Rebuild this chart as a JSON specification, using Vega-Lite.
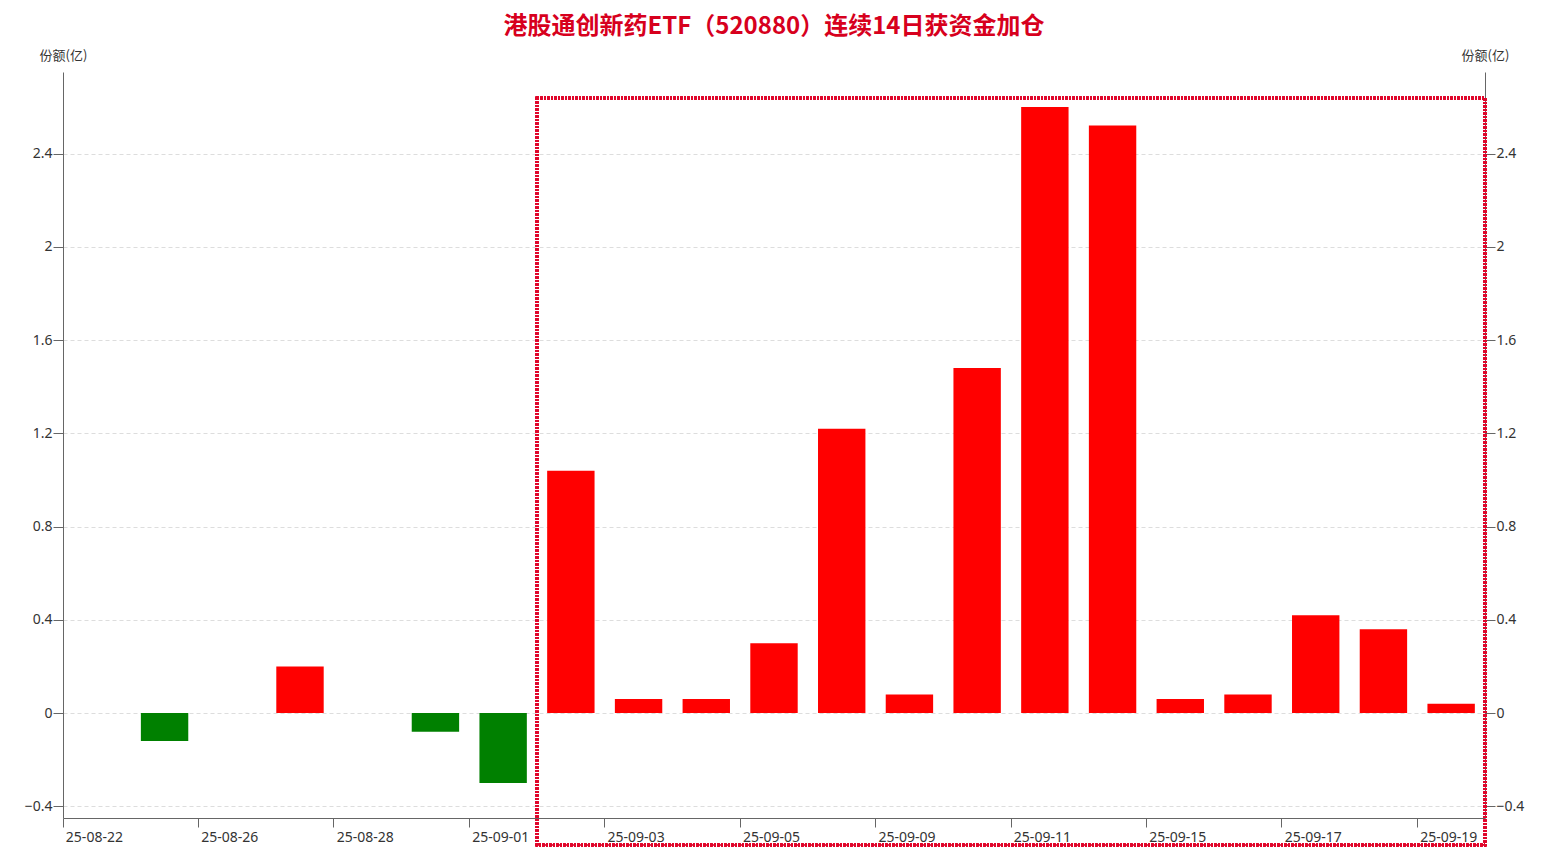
{
  "$schema": "https://vega.github.io/schema/vega-lite/v6.json",
  "background": "#ffffff",
  "autosize": {"type": "none"},
  "padding": {"left": 63, "top": 72, "right": 62, "bottom": 48},
  "width": 1422,
  "height": 746,
  "title": {
    "text": "港股通创新药ETF（520880）连续14日获资金加仓",
    "font": "Noto Sans CJK SC",
    "fontSize": 24,
    "fontWeight": "bold",
    "color": "#d7001d",
    "anchor": "middle",
    "offset": 10
  },
  "config": {
    "view": {"stroke": null},
    "axis": {
      "labelFont": "Noto Sans",
      "titleFont": "Noto Sans CJK SC",
      "labelFontSize": 14,
      "labelColor": "#333333",
      "domainColor": "#666666",
      "tickColor": "#666666"
    }
  },
  "data": {
    "values": [
      {"date": "25-08-22", "v": 0},
      {"date": "25-08-25", "v": -0.12},
      {"date": "25-08-26", "v": 0},
      {"date": "25-08-27", "v": 0.2},
      {"date": "25-08-28", "v": 0},
      {"date": "25-08-29", "v": -0.08},
      {"date": "25-09-01", "v": -0.3},
      {"date": "25-09-02", "v": 1.04},
      {"date": "25-09-03", "v": 0.06},
      {"date": "25-09-04", "v": 0.06},
      {"date": "25-09-05", "v": 0.3},
      {"date": "25-09-08", "v": 1.22},
      {"date": "25-09-09", "v": 0.08},
      {"date": "25-09-10", "v": 1.48},
      {"date": "25-09-11", "v": 2.6},
      {"date": "25-09-12", "v": 2.52},
      {"date": "25-09-15", "v": 0.06},
      {"date": "25-09-16", "v": 0.08},
      {"date": "25-09-17", "v": 0.42},
      {"date": "25-09-18", "v": 0.36},
      {"date": "25-09-19", "v": 0.04}
    ]
  },
  "layer": [
    {
      "mark": {"type": "bar", "width": {"band": 0.7}},
      "encoding": {
        "x": {
          "field": "date",
          "type": "ordinal",
          "sort": null,
          "scale": {"paddingInner": 0, "paddingOuter": 0},
          "axis": {
            "title": null,
            "bandPosition": 0,
            "values": ["25-08-22", "25-08-26", "25-08-28", "25-09-01", "25-09-03", "25-09-05", "25-09-09", "25-09-11", "25-09-15", "25-09-17", "25-09-19"],
            "labelAngle": 0,
            "labelAlign": "left",
            "labelOffset": -31,
            "labelPadding": 3,
            "tickSize": 9,
            "grid": false
          }
        },
        "y": {
          "field": "v",
          "type": "quantitative",
          "scale": {"domain": [-0.45, 2.75], "nice": false, "zero": false},
          "axis": {
            "orient": "left",
            "title": "份额(亿)",
            "titleAngle": 0,
            "titleX": 0,
            "titleY": -17,
            "titleAlign": "center",
            "titleBaseline": "middle",
            "titleFontSize": 13,
            "titleFontWeight": "normal",
            "titleColor": "#333333",
            "values": [-0.4, 0, 0.4, 0.8, 1.2, 1.6, 2, 2.4],
            "format": "~g",
            "tickSize": 10,
            "labelPadding": 1,
            "grid": true,
            "gridColor": "#dddddd",
            "gridDash": [4, 3]
          }
        },
        "color": {
          "condition": {"test": "datum.v < 0", "value": "#008000"},
          "value": "#ff0000"
        }
      }
    },
    {
      "mark": {
        "type": "rect",
        "fill": null,
        "fillOpacity": 0,
        "stroke": "#e0062a",
        "strokeWidth": 2.5,
        "strokeDash": [2, 1.5],
        "clip": false
      },
      "encoding": {
        "x": {"datum": "25-09-02", "type": "ordinal", "bandPosition": 0},
        "x2": {"datum": "25-09-19", "bandPosition": 1},
        "y": {
          "datum": 2.638,
          "type": "quantitative",
          "axis": {
            "orient": "right",
            "title": "份额(亿)",
            "titleAngle": 0,
            "titleX": 0,
            "titleY": -17,
            "titleAlign": "center",
            "titleBaseline": "middle",
            "titleFontSize": 13,
            "titleFontWeight": "normal",
            "titleColor": "#333333",
            "values": [-0.4, 0, 0.4, 0.8, 1.2, 1.6, 2, 2.4],
            "format": "~g",
            "tickSize": 10,
            "labelPadding": 1,
            "grid": false
          }
        },
        "y2": {"datum": -0.566}
      }
    }
  ],
  "resolve": {"axis": {"y": "independent"}}
}
